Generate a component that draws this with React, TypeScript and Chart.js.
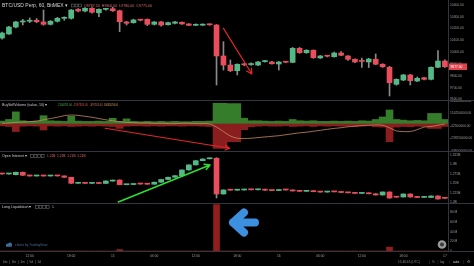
import React, { useEffect, useRef } from 'react';
import { Chart, registerables } from 'chart.js';

Chart.register(...registerables);

const FONT = '"Liberation Sans", Arial, sans-serif';
const UP = '#53b987';
const DOWN = '#eb4d5c';
const WICK = '#8a8a8a';
const AXIS_TEXT = '#9a9a9a';
const VOL_GREEN = '#357c2b';
const VOL_RED = '#8a1e1e';
const LIQ_RED = '#921d1d';

// ---------- price candles (BTC/USD Perp, 60) ----------
const candleOpen = [10120, 10154, 10213, 10256, 10262, 10270, 10256, 10236, 10262, 10287,
  10287, 10363, 10349, 10372, 10334, 10363, 10368, 10351, 10256, 10250,
  10273, 10278, 10236, 10256, 10233, 10245, 10253, 10239, 10228, 10229,
  10236, 10230, 9968, 9891, 9843, 9897, 9895, 9891, 9920, 9917,
  9900, 9917, 9914, 10033, 9996, 10016, 9951, 9968, 9962, 9993,
  9968, 9940, 9925, 9917, 9940, 9898, 9872, 9728, 9764, 9807,
  9756, 9784, 9770, 9872, 9925];
const candleHigh = [10170, 10220, 10262, 10278, 10290, 10285, 10357, 10268, 10295, 10300,
  10362, 10370, 10378, 10378, 10368, 10372, 10380, 10356, 10262, 10280,
  10278, 10282, 10260, 10262, 10255, 10262, 10258, 10242, 10240, 10240,
  10240, 10234, 10089, 9934, 9902, 9905, 9910, 9922, 9930, 9922,
  9922, 9920, 10040, 10040, 10022, 10020, 9972, 9972, 10000, 10005,
  9972, 9944, 9950, 9948, 9985, 9902, 9880, 9775, 9812, 9812,
  9790, 9788, 9876, 10013, 9935];
const candleLow = [10110, 10150, 10205, 10230, 10250, 10250, 10228, 10230, 10255, 10270,
  10280, 10340, 10342, 10330, 10300, 10355, 10345, 10174, 10230, 10245,
  10265, 10225, 10230, 10220, 10228, 10240, 10235, 10224, 10224, 10225,
  10228, 9722, 9849, 9835, 9807, 9885, 9888, 9885, 9915, 9898,
  9849, 9910, 9910, 9990, 9990, 9948, 9946, 9960, 9958, 9970,
  9930, 9912, 9870, 9870, 9893, 9870, 9629, 9720, 9758, 9722,
  9750, 9765, 9765, 9868, 9870];
const candleClose = [10162, 10213, 10256, 10262, 10264, 10258, 10236, 10262, 10287, 10289,
  10357, 10349, 10372, 10338, 10363, 10365, 10351, 10258, 10245, 10273,
  10271, 10236, 10256, 10230, 10250, 10256, 10239, 10228, 10235, 10236,
  10232, 9968, 9891, 9843, 9897, 9893, 9903, 9917, 9922, 9902,
  9917, 9915, 10033, 9996, 10016, 9953, 9968, 9966, 9993, 9974,
  9940, 9917, 9922, 9942, 9898, 9877, 9742, 9770, 9807, 9759,
  9779, 9770, 9872, 9925, 9877];

// ---------- Buy / Sell volume (millions) ----------
const buyVolume = [35, 60, 180, 40, 30, 35, 120, 40, 35, 30,
  110, 35, 30, 30, 35, 30, 80, 30, 70, 30,
  25, 30, 25, 30, 25, 30, 25, 25, 30, 30,
  35, 315, 315, 310, 310, 80, 40, 40, 35, 30,
  35, 30, 60, 40, 35, 40, 30, 30, 35, 30,
  35, 30, 40, 35, 60, 100, 210, 60, 50, 40,
  45, 40, 155, 155, 60];
const sellVolume = [-40, -50, -130, -45, -40, -45, -105, -40, -45, -40,
  -50, -45, -40, -45, -40, -45, -50, -80, -45, -40,
  -40, -45, -40, -45, -40, -40, -45, -40, -40, -45,
  -50, -395, -395, -290, -290, -100, -55, -45, -40, -45,
  -45, -40, -50, -45, -40, -50, -40, -45, -40, -45,
  -45, -50, -45, -40, -55, -60, -290, -60, -50, -55,
  -45, -50, -80, -80, -50];
const deltaAverage = [0, 5, 15, 20, 25, 35, 55, 75, 95, 120,
  130, 125, 110, 95, 75, 55, 40, 25, 15, 10,
  5, 5, 0, 0, -5, -5, 0, 0, -5, -5,
  -10, -60, -130, -200, -235, -240, -235, -225, -215, -205,
  -195, -180, -165, -150, -140, -125, -110, -95, -80, -70,
  -55, -45, -35, -30, -25, -30, -70, -120, -130, -130,
  -100, -60, -50, -30, -10];

// ---------- Open interest (billions) ----------
const oiOpen = [1.2750, 1.2748, 1.2729, 1.2793, 1.2714, 1.2695, 1.2703, 1.2695, 1.2703, 1.2697,
  1.2660, 1.2502, 1.2505, 1.2500, 1.2504, 1.2498, 1.2560, 1.2588, 1.2465, 1.2470,
  1.2500, 1.2492, 1.2478, 1.2531, 1.2602, 1.2661, 1.2703, 1.2854, 1.2988, 1.3099,
  1.3150, 1.3163, 1.2219, 1.2325, 1.2320, 1.2325, 1.2340, 1.2330, 1.2345, 1.2320,
  1.2310, 1.2330, 1.2325, 1.2300, 1.2290, 1.2305, 1.2280, 1.2270, 1.2285, 1.2275,
  1.2260, 1.2250, 1.2235, 1.2245, 1.2225, 1.2193, 1.2272, 1.2140, 1.2140, 1.2219,
  1.2153, 1.2130, 1.2127, 1.2167, 1.2110];
const oiHigh = [1.2756, 1.2756, 1.2800, 1.2800, 1.2718, 1.2708, 1.2708, 1.2708, 1.2706, 1.2700,
  1.2664, 1.2510, 1.2510, 1.2508, 1.2508, 1.2568, 1.2590, 1.2592, 1.2474, 1.2484,
  1.2504, 1.2496, 1.2535, 1.2606, 1.2665, 1.2707, 1.2858, 1.2992, 1.3103, 1.3150,
  1.3175, 1.3180, 1.2330, 1.2330, 1.2330, 1.2345, 1.2344, 1.2350, 1.2349, 1.2324,
  1.2334, 1.2334, 1.2329, 1.2304, 1.2309, 1.2309, 1.2284, 1.2289, 1.2289, 1.2279,
  1.2264, 1.2254, 1.2249, 1.2249, 1.2229, 1.2276, 1.2276, 1.2144, 1.2223, 1.2223,
  1.2157, 1.2139, 1.2171, 1.2171, 1.2114];
const oiLow = [1.2742, 1.2742, 1.2725, 1.2710, 1.2690, 1.2690, 1.2690, 1.2690, 1.2692, 1.2657,
  1.2498, 1.2498, 1.2496, 1.2496, 1.2494, 1.2494, 1.2556, 1.2461, 1.2461, 1.2466,
  1.2478, 1.2474, 1.2474, 1.2527, 1.2598, 1.2657, 1.2699, 1.2850, 1.2984, 1.3095,
  1.3146, 1.2114, 1.2215, 1.2316, 1.2316, 1.2321, 1.2326, 1.2326, 1.2316, 1.2306,
  1.2306, 1.2321, 1.2296, 1.2286, 1.2286, 1.2276, 1.2266, 1.2266, 1.2271, 1.2256,
  1.2246, 1.2231, 1.2231, 1.2221, 1.2189, 1.2189, 1.2105, 1.2131, 1.2136, 1.2136,
  1.2123, 1.2126, 1.2123, 1.2083, 1.2101];
const oiClose = [1.2748, 1.2750, 1.2793, 1.2714, 1.2695, 1.2703, 1.2695, 1.2703, 1.2697, 1.2661,
  1.2502, 1.2505, 1.2500, 1.2504, 1.2498, 1.2563, 1.2581, 1.2465, 1.2470, 1.2480,
  1.2482, 1.2478, 1.2531, 1.2602, 1.2661, 1.2703, 1.2854, 1.2988, 1.3099, 1.3144,
  1.3168, 1.2219, 1.2325, 1.2320, 1.2325, 1.2340, 1.2330, 1.2345, 1.2320, 1.2310,
  1.2330, 1.2325, 1.2300, 1.2290, 1.2305, 1.2280, 1.2270, 1.2285, 1.2275, 1.2260,
  1.2250, 1.2235, 1.2245, 1.2225, 1.2193, 1.2272, 1.2114, 1.2135, 1.2219, 1.2140,
  1.2127, 1.2135, 1.2167, 1.2087, 1.2105];

// ---------- Long liquidations (millions) ----------
const longLiquidation = [0, 0, 0, 0, 0, 0, 0, 0, 0, 0,
  0, 0, 0, 0, 0, 0, 0, 3, 0, 0,
  0, 0, 0, 0, 0, 0, 0, 0, 0, 0,
  0, 96, 0, 0, 0, 0, 0, 0, 0, 0,
  0, 0, 0, 0, 0, 0, 0, 0, 0, 0,
  0, 0, 0, 0, 0, 0, 8, 0, 0, 0,
  0, 0, 0, 0, 0];

// ---------- time axis ----------
const timeTickIndex = [4, 10, 16, 22, 28, 34, 40, 46, 52, 58, 64];
const timeTickLabels = ['12:00', '18:00', '15', '06:00', '12:00', '18:00', '16', '06:00', '12:00', '18:00', '17'];

// ---------- annotations (data coordinates) ----------
const priceArrow = { from: [32.0, 10202], to: [36.1, 9815] };
const volumeArrow = { from: [14.9, -79], to: [32.9, -394] };
const oiArrow = { from: [16.8, 1.2008], to: [30.06, 1.2986] };
const liqArrowTip = [32.8, 59];

const X_MIN = -0.29;
const X_MAX = 64.45;

function xAxis(show: boolean): any {
  return {
    type: 'linear', min: X_MIN, max: X_MAX, display: show, offset: false,
    grid: { display: false, drawTicks: false, offset: false }, border: { display: false },
    ticks: {
      autoSkip: false, maxRotation: 0, padding: 3, color: AXIS_TEXT,
      font: { family: FONT, size: 3.3 },
      callback: (_v: any, idx: number) => timeTickLabels[idx],
    },
    afterBuildTicks: (s: any) => { s.ticks = timeTickIndex.map((v) => ({ value: v })); },
    afterFit: (s: any) => {
      s.height = show ? 9 : 0;
      s.paddingLeft = 0; s.paddingRight = 0;
    },
  };
}

function yAxis(min: number, max: number, step: number, fmt: (v: number) => string): any {
  return {
    position: 'right', min, max,
    grid: { display: false, drawTicks: false }, border: { display: false },
    ticks: {
      stepSize: step, includeBounds: false, padding: 2, color: AXIS_TEXT,
      font: { family: FONT, size: 3.3 }, autoSkip: false,
      callback: (v: any) => fmt(Number(v)),
    },
    afterFit: (s: any) => { s.width = 26; s.paddingTop = 0; s.paddingBottom = 0; },
  };
}

function baseOptions(scales: any, padBottom = 0): any {
  return {
    responsive: false, animation: false, devicePixelRatio: 1, events: [],
    layout: { padding: { left: 0, right: 0, top: 0, bottom: padBottom } },
    plugins: { legend: { display: false }, tooltip: { enabled: false } },
    scales,
  };
}

function txt(ctx: any, s: string, x: number, y: number, size: number, color: string, maxW?: number) {
  ctx.font = `${size}px ${FONT}`;
  ctx.fillStyle = color;
  ctx.textBaseline = 'middle';
  ctx.textAlign = 'left';
  if (maxW) ctx.fillText(s, x, y, maxW); else ctx.fillText(s, x, y);
}

function boxes(ctx: any, x: number, y: number, n: number) {
  ctx.strokeStyle = '#6a6a6a';
  ctx.lineWidth = 0.6;
  for (let k = 0; k < n; k++) ctx.strokeRect(x + k * 3.6 + 0.5, y - 1.4, 2.8, 2.8);
}

function arrow(ctx: any, x1: number, y1: number, x2: number, y2: number, color: string, w: number, head: number) {
  ctx.save();
  ctx.strokeStyle = color;
  ctx.lineWidth = w;
  ctx.lineCap = 'round';
  ctx.beginPath();
  ctx.moveTo(x1, y1);
  ctx.lineTo(x2, y2);
  const a = Math.atan2(y2 - y1, x2 - x1);
  ctx.moveTo(x2, y2);
  ctx.lineTo(x2 - head * Math.cos(a - 0.5), y2 - head * Math.sin(a - 0.5));
  ctx.moveTo(x2, y2);
  ctx.lineTo(x2 - head * Math.cos(a + 0.5), y2 - head * Math.sin(a + 0.5));
  ctx.stroke();
  ctx.restore();
}

function candleSets(o: number[], h: number[], l: number[], c: number[], body: number): any[] {
  const color = (ctx: any) => (c[ctx.dataIndex] >= o[ctx.dataIndex] ? UP : DOWN);
  return [
    {
      type: 'bar', data: o.map((v, i) => ({ x: i, y: [v, c[i]] })),
      backgroundColor: color, barThickness: body, grouped: false, minBarLength: 1, order: 0, borderWidth: 0,
    },
    {
      type: 'bar', data: h.map((v, i) => ({ x: i, y: [l[i], v] })),
      backgroundColor: WICK, barThickness: 1, grouped: false, order: 1, borderWidth: 0,
    },
  ];
}

function priceConfig(): any {
  const plugin = {
    id: 'priceOverlay',
    afterDraw(chart: any) {
      const ctx = chart.ctx;
      const x = chart.scales.x, y = chart.scales.y;
      ctx.save();
      txt(ctx, 'BTC/USD Perp, 60, BitMEX \u25BE', 2, 5.5, 5, '#d2d2d2');
      boxes(ctx, 71, 5.5, 3);
      txt(ctx, 'O9787.50  H9800.00  L9780.00  C9775.00', 84, 5.5, 3.6, '#e06a6a', 70);
      arrow(ctx, x.getPixelForValue(priceArrow.from[0]), y.getPixelForValue(priceArrow.from[1]),
        x.getPixelForValue(priceArrow.to[0]), y.getPixelForValue(priceArrow.to[1]), '#e3262b', 1.2, 6);
      const last = candleClose[candleClose.length - 1];
      const py = y.getPixelForValue(last);
      ctx.fillStyle = '#e0454e';
      ctx.fillRect(449, py - 3.3, 18, 6.6);
      txt(ctx, last.toFixed(2), 450.5, py + 0.2, 3.3, '#ffffff');
      ctx.restore();
    },
  };
  return {
    type: 'bar',
    data: { datasets: candleSets(candleOpen, candleHigh, candleLow, candleClose, 5) },
    options: baseOptions({ x: xAxis(false), y: yAxis(9595, 10442, 100, (v) => v.toFixed(2)) }),
    plugins: [plugin],
  };
}

function volumeConfig(): any {
  const plugin = {
    id: 'volOverlay',
    afterDraw(chart: any) {
      const ctx = chart.ctx;
      const x = chart.scales.x, y = chart.scales.y;
      ctx.save();
      txt(ctx, 'BuySellVolume (value, 10) \u25BE', 2, 4, 3.6, '#c8c8c8', 46);
      txt(ctx, '2106781.00', 58, 4, 3, '#4caf50', 14);
      txt(ctx, '-1397826.00', 73, 4, 3, '#e05050', 15);
      txt(ctx, '-897531.00', 90, 4, 3, '#d8776a', 12.5);
      txt(ctx, '166350256.00', 104, 4, 3, '#d9a25e', 14);
      arrow(ctx, x.getPixelForValue(volumeArrow.from[0]), y.getPixelForValue(volumeArrow.from[1] * 1e6),
        x.getPixelForValue(volumeArrow.to[0]), y.getPixelForValue(volumeArrow.to[1] * 1e6), '#e3262b', 1.1, 5);
      ctx.restore();
    },
  };
  return {
    type: 'bar',
    data: {
      datasets: [
        { type: 'line', data: deltaAverage.map((v, i) => ({ x: i, y: v * 1e6 })), borderColor: '#c98a62', borderWidth: 0.8, pointRadius: 0, tension: 0.3, order: -1 },
        { type: 'bar', data: buyVolume.map((v, i) => ({ x: i, y: v * 1e6 })), backgroundColor: VOL_GREEN, barThickness: 7, grouped: false, borderWidth: 0, order: 1 },
        { type: 'bar', data: sellVolume.map((v, i) => ({ x: i, y: v * 1e6 })), backgroundColor: VOL_RED, barThickness: 7, grouped: false, borderWidth: 0, order: 1 },
      ],
    },
    options: baseOptions({ x: xAxis(false), y: yAxis(-436e6, 351e6, 200e6, (v) => v.toFixed(2)) }),
    plugins: [plugin],
  };
}

function oiConfig(): any {
  const plugin = {
    id: 'oiOverlay',
    afterDraw(chart: any) {
      const ctx = chart.ctx;
      const x = chart.scales.x, y = chart.scales.y;
      ctx.save();
      txt(ctx, 'Open Interest \u25BE', 2, 4, 3.6, '#c8c8c8', 26);
      boxes(ctx, 30, 4, 4);
      txt(ctx, '1.21B  1.21B  1.21B  1.21B', 47, 4, 3.2, '#e06a6a', 40);
      arrow(ctx, x.getPixelForValue(oiArrow.from[0]), y.getPixelForValue(oiArrow.from[1]),
        x.getPixelForValue(oiArrow.to[0]), y.getPixelForValue(oiArrow.to[1]), '#2fe02f', 1.4, 6);
      ctx.restore();
    },
  };
  return {
    type: 'bar',
    data: { datasets: candleSets(oiOpen, oiHigh, oiLow, oiClose, 5) },
    options: baseOptions({
      x: xAxis(false),
      y: yAxis(1.1981, 1.3329, 0.025, (v) => `${Math.round(v * 1000) / 1000}B`),
    }),
    plugins: [plugin],
  };
}

function liqConfig(): any {
  const plugin = {
    id: 'liqOverlay',
    afterDraw(chart: any) {
      const ctx = chart.ctx;
      const x = chart.scales.x, y = chart.scales.y;
      ctx.save();
      txt(ctx, 'Long Liquidation \u25BE', 2, 3, 3.6, '#c8c8c8', 32);
      boxes(ctx, 35, 3, 4);
      txt(ctx, 'L', 52.5, 3, 3.2, '#c8c8c8');
      // blue arrow pointing left
      const tx = x.getPixelForValue(liqArrowTip[0]);
      const ty = y.getPixelForValue(liqArrowTip[1]);
      ctx.strokeStyle = '#3d8fe0';
      ctx.lineWidth = 8;
      ctx.lineCap = 'round';
      ctx.lineJoin = 'round';
      ctx.beginPath();
      ctx.moveTo(tx + 26, ty);
      ctx.lineTo(tx + 4, ty);
      ctx.moveTo(tx + 15, ty - 10);
      ctx.lineTo(tx + 4, ty);
      ctx.lineTo(tx + 15, ty + 10);
      ctx.stroke();
      // logo
      ctx.fillStyle = '#3f6b9a';
      ctx.beginPath();
      ctx.arc(7.5, 41, 1.6, 0, Math.PI * 2);
      ctx.arc(10, 40.4, 2, 0, Math.PI * 2);
      ctx.fill();
      ctx.fillRect(6, 41.2, 6, 1.4);
      txt(ctx, 'charts by TradingView', 15, 41.2, 3.3, '#4a6a92', 37);
      // scale settings button
      ctx.fillStyle = '#9a9a9a';
      ctx.beginPath();
      ctx.arc(442, 40.5, 4.3, 0, Math.PI * 2);
      ctx.fill();
      ctx.fillStyle = '#3a3a3a';
      ctx.beginPath();
      ctx.arc(442, 40.5, 2, 0, Math.PI * 2);
      ctx.fill();
      // bottom toolbar
      txt(ctx, '6m  |  3m  |  1m  |  5d  |  1d', 3, 58, 3.2, '#8c8c8c', 55);
      txt(ctx, '15:46:45 (UTC)', 398, 58, 3.2, '#8c8c8c', 29);
      txt(ctx, '|', 429, 58, 3.2, '#555');
      txt(ctx, '%', 432, 58, 3.2, '#8c8c8c');
      txt(ctx, '|', 437.5, 58, 3.2, '#555');
      txt(ctx, 'log', 440, 58, 3.2, '#8c8c8c');
      txt(ctx, '|', 449, 58, 3.2, '#555');
      txt(ctx, 'auto', 453, 58, 3.2, '#cfd8e6');
      txt(ctx, '|', 463, 58, 3.2, '#555');
      txt(ctx, '\u2699', 466.5, 58, 4.2, '#8c8c8c');
      ctx.restore();
    },
  };
  return {
    type: 'bar',
    data: {
      datasets: [
        { type: 'bar', data: longLiquidation.map((v, i) => ({ x: i, y: v })), backgroundColor: LIQ_RED, barThickness: 6, grouped: false, borderWidth: 0 },
      ],
    },
    options: baseOptions({
      x: xAxis(true),
      y: yAxis(0, 97.3, 20, (v) => (v === 0 ? '0' : `${v} M`)),
    }, 6),
    plugins: [plugin],
  };
}

export default function App() {
  const r1 = useRef<HTMLCanvasElement>(null);
  const r2 = useRef<HTMLCanvasElement>(null);
  const r3 = useRef<HTMLCanvasElement>(null);
  const r4 = useRef<HTMLCanvasElement>(null);

  useEffect(() => {
    document.body.style.margin = '0';
    document.body.style.background = '#000';
    const charts = [
      new Chart(r1.current as HTMLCanvasElement, priceConfig()),
      new Chart(r2.current as HTMLCanvasElement, volumeConfig()),
      new Chart(r3.current as HTMLCanvasElement, oiConfig()),
      new Chart(r4.current as HTMLCanvasElement, liqConfig()),
    ];
    return () => charts.forEach((c) => c.destroy());
  }, []);

  const cv = (top: number, h: number): any => ({ position: 'absolute', left: 0, top, width: 474, height: h });
  const hline = (top: number): any => ({ position: 'absolute', left: 0, top, width: 474, height: 1, background: '#33363d' });

  return (
    <div style={{ position: 'relative', width: 474, height: 266, background: '#000', overflow: 'hidden' }}>
      <canvas ref={r1} width={474} height={100} style={cv(0, 100)} />
      <canvas ref={r2} width={474} height={50} style={cv(101, 50)} />
      <canvas ref={r3} width={474} height={51} style={cv(152, 51)} />
      <canvas ref={r4} width={474} height={62} style={cv(204, 62)} />
      <div style={hline(100)} />
      <div style={hline(151)} />
      <div style={hline(203)} />
      <div style={hline(251)} />
      <div style={{ position: 'absolute', left: 448, top: 0, width: 1, height: 252, background: '#33363d' }} />
    </div>
  );
}
